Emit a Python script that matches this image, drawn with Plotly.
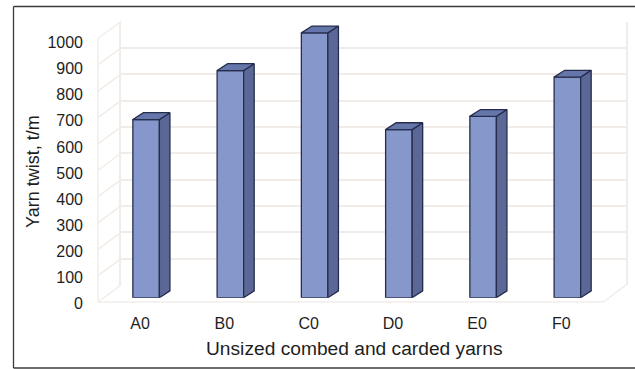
import plotly.graph_objects as go

W, H = 635, 369

# Chart data
categories = ["A0", "B0", "C0", "D0", "E0", "F0"]
twist = [676, 862, 1005, 638, 688, 837]
y_ticks = list(range(0, 1001, 100))
x_title = "Unsized combed and carded yarns"
y_title = "Yarn twist, t/m"

# Page layout of the pseudo-3D box, in pixels
FRONT_X = (98, 603.5)
BACK_X = (121, 626)
BAR_X = (104, 609.5)
FRONT_Y0, BACK_Y0, BAR_Y0 = 302, 285, 297.7
LABEL_Y0 = 303.5          # baseline of the value labels
LABEL_SCALE = 0.261
PX_PER_UNIT = 0.2635
BAR_TOP = 1100            # headroom on the bar axis for the top faces
BAR_W = 0.315             # category units
DEPTH_X = 0.125           # category units
DEPTH_Y = 26              # value units

FRONT = "#8698CB"
SIDE = "#5B6897"
TOP = "#6576AB"
EDGE = "#262C4C"
GRID = "#F1ECE8"
TEXT = "#1E1E1E"


def xdom(px):
    return [px[0] / W, px[1] / W]


def ydom(y0, top_value=1000, scale=PX_PER_UNIT):
    return [1 - y0 / H, 1 - (y0 - top_value * scale) / H]


def px(x, y):
    return x / W, 1 - y / H


fig = go.Figure()

# Front plane: carries the tick labels
fig.add_trace(go.Scatter(x=categories, y=[0] * len(categories), xaxis="x", yaxis="y",
                         mode="markers", marker=dict(opacity=0), hoverinfo="skip"))

# Back wall: carries the horizontal gridlines
fig.add_trace(go.Scatter(x=[0], y=[0], xaxis="x2", yaxis="y2",
                         mode="markers", marker=dict(opacity=0), hoverinfo="skip"))

# Bars: front faces
idx = list(range(len(categories)))
fig.add_trace(go.Bar(x=idx, y=twist, width=BAR_W, xaxis="x3", yaxis="y3",
                     marker=dict(color=FRONT, line=dict(color=EDGE, width=1.3))))

# Bars: side and top faces, derived from each value
for i, v in zip(idx, twist):
    l, r = i - BAR_W / 2, i + BAR_W / 2
    fig.add_trace(go.Scatter(
        x=[r, r + DEPTH_X, r + DEPTH_X, r, r],
        y=[0, DEPTH_Y, v + DEPTH_Y, v, 0],
        xaxis="x3", yaxis="y3", mode="lines", fill="toself", fillcolor=SIDE,
        line=dict(color=EDGE, width=1.3), hoverinfo="skip"))
    fig.add_trace(go.Scatter(
        x=[l, r, r + DEPTH_X, l + DEPTH_X, l],
        y=[v, v, v + DEPTH_Y, v + DEPTH_Y, v],
        xaxis="x3", yaxis="y3", mode="lines", fill="toself", fillcolor=TOP,
        line=dict(color=EDGE, width=1.3), hoverinfo="skip"))

# Side wall and floor edges
shapes = []


def edge(x0, y0, x1, y1, color=GRID, width=1.5):
    a, b = px(x0, y0)
    c, d = px(x1, y1)
    shapes.append(dict(type="line", xref="paper", yref="paper", layer="below",
                       x0=a, y0=b, x1=c, y1=d, line=dict(color=color, width=width)))


for t in y_ticks:
    edge(FRONT_X[0], FRONT_Y0 - t * PX_PER_UNIT, BACK_X[0], BACK_Y0 - t * PX_PER_UNIT)
edge(FRONT_X[0], FRONT_Y0, FRONT_X[0], FRONT_Y0 - 1000 * PX_PER_UNIT)
edge(FRONT_X[0], FRONT_Y0, FRONT_X[1], FRONT_Y0)
edge(FRONT_X[1], FRONT_Y0, BACK_X[1], BACK_Y0)

# Figure frame: open on the right-hand side
FRAME = "#3C3C3C"
edge(13.5, 6.5, W, 6.5, FRAME, 1.3)
edge(13.5, 6.5, 13.5, 368, FRAME, 1.3)
edge(13.5, 368, W, 368, FRAME, 1.3)

font = dict(family="Liberation Sans, Arial, sans-serif", color=TEXT)
hidden = dict(showticklabels=False, showgrid=False, zeroline=False, showline=False,
              ticks="", automargin=False)

# Axis titles placed on the page
xt_x, xt_y = px(354, 348.5)
yt_x, yt_y = px(33, 172)
annotations = [
    dict(text=x_title, xref="paper", yref="paper", x=xt_x, y=xt_y, showarrow=False,
         xanchor="center", yanchor="middle", font=dict(size=19.2, **font)),
    dict(text=y_title, xref="paper", yref="paper", x=yt_x, y=yt_y, showarrow=False,
         textangle=-90, xanchor="center", yanchor="middle", font=dict(size=18, **font)),
]

fig.update_layout(
    width=W, height=H, autosize=False, showlegend=False, template="none",
    margin=dict(l=0, r=0, t=0, b=0), paper_bgcolor="white", plot_bgcolor="rgba(0,0,0,0)",
    shapes=shapes, annotations=annotations, font=dict(size=16, **font), barmode="overlay",
    xaxis=dict(domain=xdom(FRONT_X), anchor="y", range=[-0.5, 5.5], type="category",
               automargin=False, showgrid=False, zeroline=False, showline=False, ticks="",
               ticklabelstandoff=8, tickfont=dict(size=16, **font)),
    yaxis=dict(domain=ydom(LABEL_Y0, scale=LABEL_SCALE), anchor="x", range=[0, 1000],
               tickvals=y_ticks, automargin=False, showgrid=False, zeroline=False,
               showline=False, ticks="", ticklabelstandoff=14, tickfont=dict(size=16, **font)),
    xaxis2=dict(domain=xdom(BACK_X), anchor="y2", range=[-0.5, 5.5], **hidden),
    yaxis2=dict(domain=ydom(BACK_Y0), anchor="x2", range=[0, 1000], tickvals=y_ticks,
                automargin=False, showticklabels=False, ticks="", zeroline=False,
                showgrid=True, gridcolor=GRID, gridwidth=1.5,
                showline=True, linecolor=GRID, linewidth=1.5, mirror=True),
    xaxis3=dict(domain=xdom(BAR_X), anchor="y3", range=[-0.5, 5.5], **hidden),
    yaxis3=dict(domain=ydom(BAR_Y0, BAR_TOP), anchor="x3", range=[0, BAR_TOP], **hidden),
)

fig.write_html("out.html", config=dict(displayModeBar=False))
